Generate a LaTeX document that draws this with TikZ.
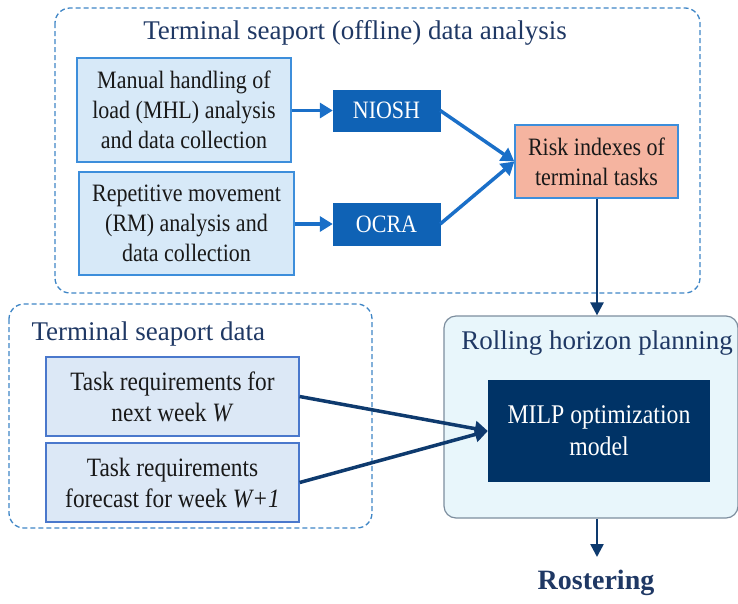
\documentclass[tikz,border=0pt]{standalone}
\usepackage{fontspec}
\setmainfont{Liberation Serif}
\newfontfamily\condfont{Liberation Serif}[FakeStretch=0.88]
\usetikzlibrary{arrows.meta,positioning}
\definecolor{dashblue}{HTML}{3F86C6}
\definecolor{lightbox}{HTML}{D7E9F8}
\definecolor{lightborder}{HTML}{3D8EDB}
\definecolor{midblue}{HTML}{0F62B5}
\definecolor{salmon}{HTML}{F5B4A0}
\definecolor{taskfill}{HTML}{DCE8F6}
\definecolor{taskborder}{HTML}{4A78CC}
\definecolor{rollfill}{HTML}{E8F6FB}
\definecolor{rollborder}{HTML}{7D8E9E}
\definecolor{navy}{HTML}{003366}
\definecolor{titlenavy}{HTML}{1F3864}
\definecolor{arrowblue}{HTML}{1A6FC8}
\definecolor{arrownavy}{HTML}{0E3A6E}
\tikzset{
  boxtext/.style={font=\condfont\fontsize{25}{30}\selectfont, align=center, text=black!90},
  lightnode/.style={boxtext, draw=lightborder, fill=lightbox, line width=1.3pt, inner sep=0pt},
  darknode/.style={boxtext, draw=midblue, fill=midblue, text=white, inner sep=0pt},
  risknode/.style={boxtext, draw=lightborder, fill=salmon, line width=1.3pt, inner sep=0pt},
  tasknode/.style={font=\condfont\fontsize{26.5}{31}\selectfont, align=center, text=black!90, draw=taskborder, fill=taskfill, line width=1.3pt, inner sep=0pt},
  groupbox/.style={draw=dashblue, line width=1.3pt, dash pattern=on 5pt off 3pt, rounded corners=15pt},
  titletext/.style={font=\fontsize{27}{32}\selectfont, text=titlenavy},
  bluearrow/.style={draw=arrowblue, line width=3.5pt, -{Triangle[length=13pt,width=15pt]}},
  navyarrow/.style={draw=arrownavy, line width=3.5pt, -{Triangle[length=13pt,width=15pt]}},
  thinnavyarrow/.style={draw=arrownavy, line width=2.5pt, -{Triangle[length=13pt,width=13pt]}}
}
\begin{document}
\begin{tikzpicture}[x=1pt,y=-1pt]
\useasboundingbox (0,0) rectangle (738,603);
% group boxes
\draw[groupbox] (55,8) rectangle (700,293);
\draw[groupbox] (9,304) rectangle (372,528);
\node[titletext] (t1) at (355,33) {Terminal seaport (offline) data analysis};
\node[titletext, anchor=west] (t2) at (28,334) {Terminal seaport data};
% top section
\node[lightnode, minimum width=214pt, minimum height=104pt] (mhl) at (184,110)
  {Manual handling of\\load (MHL) analysis\\and data collection};
\node[lightnode, minimum width=215pt, minimum height=103pt] (rm) at (186.5,223.5)
  {Repetitive movement\\(RM) analysis and\\data collection};
\node[darknode, minimum width=107pt, minimum height=41pt] (niosh) at (386.5,110.5) {NIOSH};
\node[darknode, minimum width=107pt, minimum height=42pt] (ocra) at (386.5,224) {OCRA};
\node[risknode, minimum width=163pt, minimum height=73pt] (risk) at (596.5,161.5)
  {Risk indexes of\\terminal tasks};
% bottom section
\node[tasknode, minimum width=253pt, minimum height=79pt] (tw) at (172.5,396.5)
  {Task requirements for\\next week \textit{W}};
\node[tasknode, minimum width=253pt, minimum height=79pt] (tw1) at (172.5,482.5)
  {Task requirements\\forecast for week \textit{W+1}};
\node[draw=rollborder, fill=rollfill, line width=1.2pt, rounded corners=12pt,
      minimum width=294pt, minimum height=202pt, inner sep=0pt] (roll) at (591,417) {};
\node[titletext] (rolltitle) at (597,343) {Rolling horizon planning};
\node[boxtext, fill=navy, text=white, inner sep=0pt, minimum width=222pt, minimum height=102pt,
      font=\condfont\fontsize{27}{32}\selectfont] (milp) at (599,431) {MILP optimization\\model};
\node[font=\bfseries\fontsize{28}{32}\selectfont, text=titlenavy] (rost) at (596,583) {Rostering};
\coordinate (rostin) at (597,557);
% arrows
\draw[bluearrow] (mhl.east |- niosh.west) -- (niosh.west);
\draw[bluearrow] (rm.east |- ocra.west) -- (ocra.west);
\draw[bluearrow] (niosh.east) -- (risk.west);
\draw[bluearrow] (ocra.east) -- (risk.west);
\draw[thinnavyarrow] (risk.south -| 597,0) -- (roll.north -| 597,0);
\draw[navyarrow] (tw.east) -- (milp.west);
\draw[navyarrow] (tw1.east) -- (milp.west);
\draw[thinnavyarrow] (roll.south -| rostin) -- (rostin);
\end{tikzpicture}
\end{document}
